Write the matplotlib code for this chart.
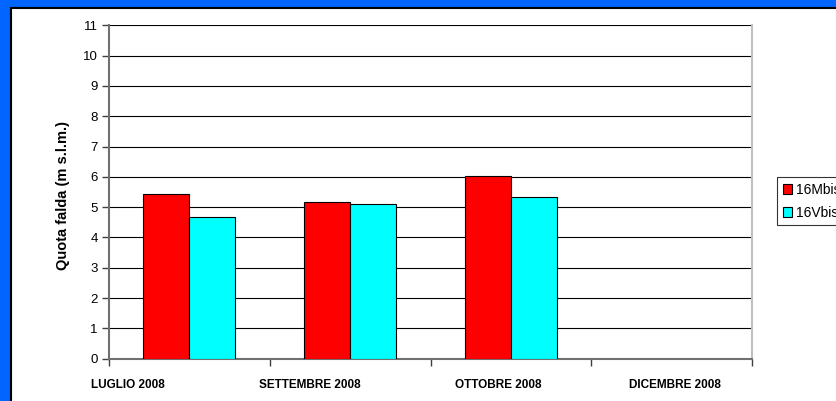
import matplotlib
matplotlib.use("Agg")
import matplotlib.pyplot as plt
from matplotlib.patches import Rectangle
import numpy as np

plt.rcParams['font.family'] = ['Liberation Sans', 'DejaVu Sans']

categories = ["LUGLIO 2008", "SETTEMBRE 2008", "OTTOBRE 2008", "DICEMBRE 2008"]
series_names = ["16Mbis", "16Vbis"]
mbis = [5.43, 5.16, 6.02, np.nan]
vbis = [4.69, 5.11, 5.35, np.nan]
label_offsets = [-0.385, -0.25, -0.077, 0.02]
yticks = list(range(0, 12))

fig = plt.figure(figsize=(8.36, 4.01), dpi=100)
fig.patch.set_facecolor('#0066FF')
# white panel with dark border
fig.patches.append(Rectangle((11/836, -0.01), 1, 1.01 - 8.5/401, transform=fig.transFigure,
                             facecolor='white', edgecolor='black', linewidth=1.5, zorder=-5))

ax = fig.add_axes([109/836, 42.3/401, 643/836, 333.4/401])
ax.set_zorder(2)
ax.set_facecolor('white')
x = np.arange(len(categories))
w = 1 / 3.5
ax.bar(x - w/2, mbis, width=w, color='#FF0000', edgecolor='black', linewidth=0.8, zorder=3, label=series_names[0])
ax.bar(x + w/2, vbis, width=w, color='#00FFFF', edgecolor='black', linewidth=0.8, zorder=3, label=series_names[1])

ax.set_xlim(-0.5, len(categories) - 0.5)
ax.set_ylim(0, 11)
ax.set_yticks(yticks)
ax.set_yticklabels([str(v) for v in yticks], fontsize=9.5)
ax.yaxis.grid(True, color='black', linewidth=0.8, zorder=0)
ax.set_axisbelow(True)
ax.tick_params(axis='y', length=5, width=1, color='#404040', pad=3)
ax.set_xticks(np.arange(len(categories) + 1) - 0.5)
ax.set_xticklabels([])
ax.tick_params(axis='x', length=5, width=1, color='#404040')
for s in ['left', 'bottom']:
    ax.spines[s].set_color('#707070')
    ax.spines[s].set_linewidth(1.5)
ax.spines['top'].set_visible(False)
ax.spines['right'].set_color('#C0C0C0')
ax.spines['right'].set_linewidth(1.5)

for i, (c, off) in enumerate(zip(categories, label_offsets)):
    ax.text(i + off, -0.87, c, ha='center', va='center', fontsize=8.5, fontweight='bold',
            transform=ax.transData)

ax.set_ylabel("Quota falda (m s.l.m.)", fontsize=10.5, fontweight='bold', va='center')
ax.yaxis.set_label_coords(-0.0715, 0.489)

leg = ax.legend(loc='upper left', bbox_to_anchor=(777/836, (401-177.3)/401),
                bbox_transform=fig.transFigure, frameon=True, fancybox=False,
                fontsize=10, handlelength=0.65, handleheight=0.65, handletextpad=0.3,
                borderpad=0.4, labelspacing=0.65, borderaxespad=0)
leg.get_frame().set_edgecolor('black')
leg.get_frame().set_linewidth(0.8)

fig.savefig("out.png", dpi=100, facecolor=fig.get_facecolor())
